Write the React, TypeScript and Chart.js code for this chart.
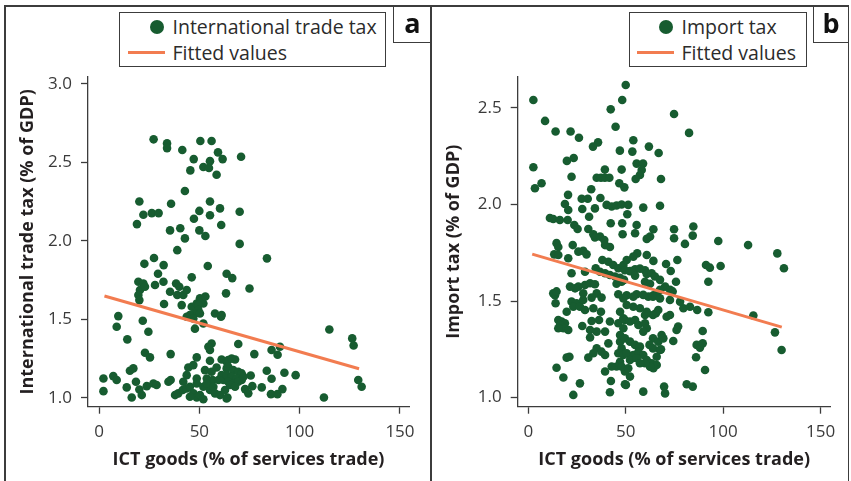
import React, { useEffect, useRef } from 'react';
import { Chart, registerables } from 'chart.js';

Chart.register(...registerables);

// ---------- data ----------
const xTickValues = [0, 50, 100, 150];
const tradeTaxTicks = [1.0, 1.5, 2.0, 2.5, 3.0];
const importTaxTicks = [1.0, 1.5, 2.0, 2.5];

const xAxisTitle = 'ICT goods (% of services trade)';
const tradeTaxTitle = 'International trade tax (% of GDP)';
const importTaxTitle = 'Import tax (% of GDP)';

const tradeFitX = [2.7, 129.6];
const tradeFitY = [1.648, 1.185];
const importFitX = [2.0, 130.1];
const importFitY = [1.743, 1.365];

// panel a: ICT goods (x) vs international trade tax (y)
const tradeTaxPoints: [number, number][] = [
  [27.2, 2.646], [33.9, 2.62], [33.9, 2.59], [41.5, 2.578], [50.5, 2.635], [56.1, 2.635],
  [59.3, 2.563], [61.6, 2.52], [47.2, 2.52], [55.3, 2.507], [52.0, 2.47], [54.8, 2.463],
  [45.5, 2.448], [58.6, 2.42], [70.8, 2.535], [42.8, 2.317], [20.1, 2.25], [35.9, 2.236],
  [22.1, 2.166], [26.3, 2.176], [29.7, 2.176], [18.9, 2.106], [55.3, 2.25], [50.0, 2.19],
  [60.3, 2.206], [70.1, 2.185], [55.3, 2.162], [47.3, 2.14], [60.9, 2.10], [35.4, 2.066],
  [40.5, 2.08], [50.0, 2.066], [53.0, 2.03], [42.8, 2.015], [70.1, 1.98], [39.0, 1.94],
  [83.7, 1.888], [27.4, 1.89], [22.6, 1.853], [32.2, 1.845], [54.2, 1.839], [29.4, 1.79],
  [63.6, 1.79], [66.4, 1.762], [46.2, 1.767],
  [19.6, 1.739], [22.1, 1.728], [20.4, 1.686], [19.6, 1.654], [20.1, 1.622], [22.9, 1.707],
  [27.9, 1.718], [32.1, 1.739], [38.4, 1.728], [40.0, 1.707], [35.4, 1.675], [39.0, 1.654],
  [42.0, 1.654], [43.7, 1.686], [41.2, 1.59], [32.4, 1.597], [46.2, 1.58], [48.7, 1.60],
  [50.3, 1.633], [52.0, 1.60], [51.0, 1.62], [53.0, 1.645], [49.5, 1.59], [49.5, 1.558],
  [47.8, 1.537], [45.3, 1.527], [43.7, 1.516], [47.0, 1.505], [50.3, 1.537], [63.3, 1.665],
  [57.8, 1.537], [61.1, 1.527], [60.8, 1.516], [52.0, 1.473], [47.8, 1.44], [9.6, 1.52],
  [8.8, 1.452], [21.8, 1.49], [24.6, 1.42], [14.1, 1.372], [56.1, 1.346], [55.3, 1.304],
  [54.5, 1.325], [22.9, 1.287], [25.4, 1.257], [35.7, 1.278], [48.7, 1.257], [55.3, 1.236],
  [61.1, 1.244], [63.6, 1.229], [44.5, 1.193], [47.0, 1.208], [43.7, 1.144], [48.7, 1.123],
  [52.8, 1.176], [56.1, 1.166], [58.6, 1.193], [61.1, 1.144], [63.6, 1.187], [53.7, 1.123],
  [56.6, 1.113], [59.5, 1.113], [62.0, 1.113], [2.2, 1.123], [7.1, 1.138], [8.8, 1.113],
  [15.4, 1.172], [17.1, 1.187], [2.2, 1.042], [13.8, 1.066], [18.4, 1.102], [20.1, 1.053],
  [21.3, 1.017], [16.3, 1.002], [23.8, 1.074], [27.1, 1.091], [28.7, 1.081], [34.6, 1.102],
  [35.7, 1.113], [37.9, 1.017], [39.5, 1.028], [41.7, 1.049], [43.7, 1.059], [45.3, 1.07],
  [47.0, 1.028], [48.7, 1.002], [50.3, 1.017], [52.0, 0.99], [45.3, 1.006], [55.3, 1.049],
  [57.8, 1.028], [60.3, 1.017], [62.8, 1.049], [64.0, 1.002], [42.0, 1.102], [48.7, 1.091],
  [52.0, 1.07], [53.7, 1.091], [57.0, 1.07],
  [75.0, 1.696], [114.8, 1.435], [126.2, 1.378], [126.9, 1.333], [69.4, 1.342], [77.4, 1.278],
  [86.0, 1.304], [90.2, 1.325], [89.0, 1.274], [64.4, 1.24], [67.8, 1.244], [66.1, 1.25],
  [83.6, 1.172], [92.4, 1.159], [98.0, 1.144], [86.0, 1.121], [75.6, 1.142], [129.2, 1.113],
  [130.9, 1.07], [112.1, 1.002], [81.1, 1.066], [91.4, 1.055], [85.7, 1.023], [88.9, 1.023],
  [72.8, 1.055], [74.4, 1.028], [76.4, 1.074], [63.6, 0.996], [64.4, 1.197], [66.9, 1.176],
  [69.4, 1.166], [71.1, 1.155], [63.6, 1.144], [66.1, 1.134], [68.6, 1.123], [71.1, 1.113],
  [64.4, 1.102], [66.9, 1.091], [69.4, 1.102], [65.3, 1.081], [67.8, 1.07], [72.0, 1.134],
];

// panel b: ICT goods (x) vs import tax (y)
const importTaxPoints: [number, number][] = [
  [50.0, 2.619], [2.6, 2.541], [48.2, 2.541], [42.3, 2.493], [74.8, 2.469], [8.6, 2.433],
  [82.5, 2.371], [44.8, 2.403], [14.0, 2.378], [21.7, 2.378], [26.0, 2.346], [35.8, 2.322],
  [33.2, 2.30], [53.9, 2.333], [47.0, 2.279], [53.4, 2.274], [61.9, 2.30], [66.9, 2.267],
  [2.6, 2.193], [19.8, 2.226], [23.3, 2.241], [22.2, 2.144], [39.3, 2.181], [47.9, 2.181],
  [35.1, 2.139], [37.3, 2.139], [39.3, 2.139], [41.6, 2.139], [55.6, 2.212], [58.9, 2.212],
  [58.2, 2.179], [57.3, 2.153], [55.1, 2.132], [68.1, 2.132], [46.7, 2.11], [49.3, 2.089],
  [3.4, 2.084], [6.8, 2.11], [32.3, 2.079], [20.4, 2.05], [27.4, 2.03], [30.5, 2.03],
  [37.0, 2.034],
  [18.8, 2.003], [20.5, 1.972], [27.7, 1.977], [34.2, 1.98], [40.2, 1.998], [42.8, 1.99],
  [45.3, 1.995], [47.9, 2.0], [11.1, 1.93], [12.8, 1.925], [16.2, 1.92], [20.2, 1.92],
  [23.6, 1.894], [25.3, 1.873], [30.8, 1.873], [33.4, 1.846], [34.2, 1.829], [36.8, 1.834],
  [39.0, 1.816], [31.2, 1.937], [42.3, 1.903], [48.2, 1.903], [39.4, 1.79], [41.9, 1.78],
  [14.5, 1.80], [15.4, 1.78], [13.3, 1.742], [15.4, 1.739], [22.8, 1.79], [20.5, 1.722],
  [25.7, 1.756], [28.2, 1.76], [29.9, 1.742], [22.2, 1.644], [29.1, 1.652], [38.0, 1.713],
  [41.1, 1.704], [43.6, 1.687], [46.2, 1.67], [48.8, 1.687], [34.6, 1.67], [36.8, 1.652],
  [39.4, 1.644], [41.9, 1.635], [44.5, 1.627], [47.1, 1.621], [47.9, 1.60], [45.3, 1.59],
  [25.7, 1.575], [29.1, 1.583], [31.7, 1.592], [34.2, 1.587], [24.0, 1.566], [21.4, 1.575],
  [13.7, 1.53], [12.8, 1.54], [14.5, 1.55], [28.2, 1.54], [35.1, 1.54], [46.2, 1.535],
  [51.3, 1.998], [59.0, 1.984], [67.6, 1.994], [50.8, 1.95], [55.6, 1.894], [64.2, 1.872],
  [74.8, 1.872], [84.7, 1.886], [48.4, 1.846], [54.8, 1.851], [60.8, 1.822], [62.5, 1.834],
  [74.8, 1.825], [84.4, 1.839], [80.4, 1.796], [97.5, 1.811], [112.8, 1.79], [127.8, 1.747],
  [131.2, 1.67], [76.5, 1.713], [70.7, 1.692], [73.1, 1.656], [64.2, 1.708], [60.8, 1.739],
  [55.9, 1.747], [53.9, 1.73], [50.5, 1.713], [91.2, 1.687], [93.2, 1.673], [98.7, 1.682],
  [92.4, 1.60], [75.8, 1.60], [49.6, 1.66], [52.2, 1.655], [54.8, 1.665], [57.3, 1.668],
  [59.9, 1.66], [54.8, 1.632], [60.8, 1.64], [63.3, 1.644], [65.0, 1.627], [67.6, 1.61],
  [59.9, 1.60], [62.5, 1.59], [49.1, 1.61], [70.2, 1.575], [72.8, 1.558], [74.1, 1.55],
  [67.6, 1.558], [64.2, 1.53], [61.6, 1.523], [65.9, 1.54], [55.6, 1.535], [50.5, 1.53],
  [14.0, 1.489], [22.2, 1.497], [24.8, 1.489], [23.1, 1.471], [26.5, 1.471], [28.2, 1.506],
  [32.5, 1.518], [37.6, 1.518], [33.4, 1.463], [29.1, 1.454], [19.7, 1.445], [37.3, 1.445],
  [15.4, 1.402], [17.1, 1.394], [18.8, 1.385], [16.3, 1.376], [18.0, 1.359], [20.5, 1.35],
  [15.4, 1.359], [32.5, 1.397], [36.3, 1.402], [41.9, 1.394], [27.7, 1.371], [46.2, 1.385],
  [48.8, 1.359], [49.6, 1.402], [31.7, 1.35], [35.1, 1.342], [39.4, 1.342], [31.7, 1.311],
  [41.1, 1.281], [47.1, 1.29], [47.9, 1.255], [46.2, 1.23], [48.8, 1.221], [47.1, 1.186],
  [45.3, 1.161], [35.1, 1.255], [37.6, 1.238], [39.4, 1.221], [33.4, 1.23], [30.8, 1.207],
  [19.7, 1.207], [21.1, 1.212], [14.5, 1.155], [18.0, 1.104], [26.5, 1.074], [23.1, 1.014],
  [39.4, 1.135], [42.8, 1.161], [42.4, 1.086], [41.9, 1.028], [49.6, 1.069],
  [115.5, 1.425], [126.6, 1.338], [130.0, 1.247], [86.7, 1.454], [92.4, 1.442], [79.6, 1.463],
  [83.0, 1.471], [76.9, 1.368], [76.1, 1.35], [89.5, 1.345], [74.4, 1.293], [86.4, 1.273],
  [88.1, 1.259], [89.5, 1.281], [86.1, 1.209], [90.7, 1.143], [81.3, 1.069], [84.4, 1.057],
  [69.7, 1.057], [70.2, 1.022], [59.0, 1.031], [50.1, 1.066], [52.2, 1.109], [49.6, 1.135],
  [65.5, 1.437], [66.7, 1.454], [64.0, 1.428], [71.0, 1.419], [72.7, 1.428], [59.9, 1.428],
  [60.8, 1.445], [57.3, 1.463], [53.9, 1.471], [50.5, 1.48], [47.1, 1.445], [48.8, 1.411],
  [52.2, 1.394], [54.8, 1.402], [56.5, 1.376], [59.9, 1.385], [60.8, 1.359], [59.0, 1.342],
  [64.0, 1.307], [66.7, 1.29], [68.4, 1.324], [69.3, 1.307], [62.2, 1.273], [64.0, 1.255],
  [67.6, 1.247], [47.1, 1.324], [49.6, 1.307], [52.2, 1.29], [54.8, 1.273], [57.3, 1.264],
  [50.5, 1.23], [53.9, 1.221], [56.5, 1.238], [59.0, 1.221], [60.8, 1.195], [63.3, 1.178],
  [65.9, 1.169], [64.2, 1.152], [62.5, 1.16], [59.9, 1.178], [52.2, 1.195], [55.6, 1.204],
  [57.3, 1.178], [48.0, 1.16], [51.3, 1.152], [68.1, 1.25], [65.9, 1.212], [48.8, 1.514],
  [53.9, 1.523], [59.0, 1.532], [64.0, 1.523], [67.6, 1.514], [72.7, 1.506], [77.9, 1.497],
];

// ---------- styling ----------
const FONT = '"Open Sans", "DejaVu Sans", sans-serif';
const GREEN = '#175c30';
const ORANGE = '#f27c50';
const INK = '#231f20';
const TICK_INK = '#3a3a3a';
const FRAME = '#3c3c3c';
const TITLE_SIZE = 18;

type PanelSpec = {
  points: [number, number][];
  fitX: number[];
  fitY: number[];
  xMin: number;
  xMax: number;
  yMin: number;
  yMax: number;
  yTicks: number[];
  yTitle: string;
  yAxisWidth: number;
  yTitlePad: number;
  padRight: number;
  padTop: number;
  xAxisHeight: number;
};

function buildChart(canvas: HTMLCanvasElement, p: PanelSpec) {
  return new Chart(canvas, {
    type: 'scatter',
    data: {
      datasets: [
        {
          type: 'line',
          label: 'Fitted values',
          data: p.fitX.map((x, i) => ({ x, y: p.fitY[i] })),
          borderColor: ORANGE,
          borderWidth: 3,
          pointRadius: 0,
          fill: false,
          tension: 0,
        } as any,
        {
          type: 'scatter',
          label: 'points',
          data: p.points.map(([x, y]) => ({ x, y })),
          backgroundColor: GREEN,
          borderColor: GREEN,
          borderWidth: 0,
          pointRadius: 4.3,
        },
      ],
    },
    options: {
      responsive: false,
      animation: false,
      devicePixelRatio: 1,
      layout: { padding: { left: 0, top: p.padTop, right: p.padRight, bottom: 0 } },
      plugins: { legend: { display: false }, tooltip: { enabled: false } },
      scales: {
        x: {
          type: 'linear',
          min: p.xMin,
          max: p.xMax,
          afterBuildTicks: (s: any) => {
            s.ticks = xTickValues.map((v) => ({ value: v }));
          },
          afterFit: (s: any) => {
            s.height = p.xAxisHeight;
          },
          grid: { drawOnChartArea: false, drawTicks: true, tickLength: 7, tickColor: FRAME, tickWidth: 1.3 },
          border: { display: true, color: FRAME, width: 1.3 },
          ticks: {
            padding: 8,
            color: TICK_INK,
            font: { family: FONT, size: 17 },
            maxRotation: 0,
            callback: (v: any) => String(v),
          },
          title: {
            display: true,
            text: xAxisTitle,
            color: INK,
            font: { family: FONT, size: TITLE_SIZE, weight: 'bold' },
            padding: { top: 0, bottom: 10 },
          },
        },
        y: {
          type: 'linear',
          min: p.yMin,
          max: p.yMax,
          afterBuildTicks: (s: any) => {
            s.ticks = p.yTicks.map((v) => ({ value: v }));
          },
          afterFit: (s: any) => {
            s.width = p.yAxisWidth;
          },
          grid: { drawOnChartArea: false, drawTicks: true, tickLength: 7, tickColor: FRAME, tickWidth: 1.3 },
          border: { display: true, color: FRAME, width: 1.3 },
          ticks: {
            padding: 9,
            color: TICK_INK,
            font: { family: FONT, size: 17 },
            callback: (v: any) => Number(v).toFixed(1),
          },
          title: {
            display: true,
            text: p.yTitle,
            color: INK,
            font: { family: FONT, size: TITLE_SIZE, weight: 'bold' },
            padding: { top: p.yTitlePad, bottom: 0 },
          },
        },
      },
    },
  } as any);
}

const panelA: PanelSpec = {
  points: tradeTaxPoints,
  fitX: tradeFitX,
  fitY: tradeFitY,
  xMin: -5.5,
  xMax: 154.5,
  yMin: 0.943,
  yMax: 3.043,
  yTicks: tradeTaxTicks,
  yTitle: tradeTaxTitle,
  yAxisWidth: 88,
  yTitlePad: 17,
  padRight: 16,
  padTop: 77,
  xAxisHeight: 74.3,
};

const panelB: PanelSpec = {
  points: importTaxPoints,
  fitX: importFitX,
  fitY: importFitY,
  xMin: -5.44,
  xMax: 155.2,
  yMin: 0.953,
  yMax: 2.662,
  yTicks: importTaxTicks,
  yTitle: importTaxTitle,
  yAxisWidth: 86.7,
  yTitlePad: 12,
  padRight: 20.3,
  padTop: 76.7,
  xAxisHeight: 74.3,
};

function Legend(props: { left: number; width: number; label: string; textLeft: number }) {
  const { left, width, label, textLeft } = props;
  const textStyle: React.CSSProperties = {
    position: 'absolute',
    left: textLeft - left - 1.5,
    fontFamily: FONT,
    fontSize: 19.5,
    lineHeight: '24px',
    color: '#2b2b2b',
    whiteSpace: 'nowrap',
  };
  return (
    <div
      style={{
        position: 'absolute',
        left,
        top: 12,
        width,
        height: 55,
        boxSizing: 'border-box',
        border: `1.5px solid ${FRAME}`,
        background: '#fff',
      }}
    >
      <div
        style={{
          position: 'absolute',
          left: textLeft - left - 24,
          top: 27 - 12 - 1.5 - 7,
          width: 14,
          height: 14,
          borderRadius: '50%',
          background: GREEN,
        }}
      />
      <div style={{ ...textStyle, top: 27 - 12 - 1.5 - 12 }}>{label}</div>
      <div
        style={{
          position: 'absolute',
          left: textLeft - left - 46.5,
          top: 53 - 12 - 1.5 - 1.5,
          width: 37,
          height: 3,
          background: ORANGE,
        }}
      />
      <div style={{ ...textStyle, top: 53 - 12 - 1.5 - 12 }}>Fitted values</div>
    </div>
  );
}

function PanelLabel(props: { left: number; width: number; text: string }) {
  return (
    <div
      style={{
        position: 'absolute',
        left: props.left,
        top: 5,
        width: props.width,
        height: 38,
        boxSizing: 'border-box',
        borderLeft: `1.5px solid ${FRAME}`,
        borderBottom: `1.5px solid ${FRAME}`,
        fontFamily: FONT,
        fontWeight: 'bold',
        fontSize: 27,
        lineHeight: '36px',
        textAlign: 'center',
        color: '#111',
      }}
    >
      {props.text}
    </div>
  );
}

export default function App() {
  const refA = useRef<HTMLCanvasElement | null>(null);
  const refB = useRef<HTMLCanvasElement | null>(null);

  useEffect(() => {
    const a = refA.current ? buildChart(refA.current, panelA) : null;
    const b = refB.current ? buildChart(refB.current, panelB) : null;
    return () => {
      a?.destroy();
      b?.destroy();
    };
  }, []);

  return (
    <div
      style={{
        position: 'fixed',
        left: 0,
        top: 0,
        width: 851,
        height: 481,
        background: '#fff',
        overflow: 'hidden',
      }}
    >
      {/* frame */}
      <div style={{ position: 'absolute', left: 4, top: 5, width: 845, height: 1.5, background: FRAME }} />
      <div style={{ position: 'absolute', left: 4, top: 5, width: 1.5, height: 480, background: FRAME }} />
      <div style={{ position: 'absolute', left: 847.5, top: 5, width: 1.5, height: 480, background: FRAME }} />
      <div style={{ position: 'absolute', left: 430, top: 5, width: 1.5, height: 480, background: FRAME }} />

      <canvas
        ref={refA}
        width={425}
        height={481}
        style={{ position: 'absolute', left: 0, top: 0, width: 425, height: 481 }}
      />
      <canvas
        ref={refB}
        width={420}
        height={481}
        style={{ position: 'absolute', left: 431, top: 0, width: 420, height: 481 }}
      />

      <Legend left={119} width={267} label="International trade tax" textLeft={173} />
      <Legend left={629} width={178} label="Import tax" textLeft={682} />
      <PanelLabel left={393} width={38} text="a" />
      <PanelLabel left={812.5} width={36} text="b" />
    </div>
  );
}
